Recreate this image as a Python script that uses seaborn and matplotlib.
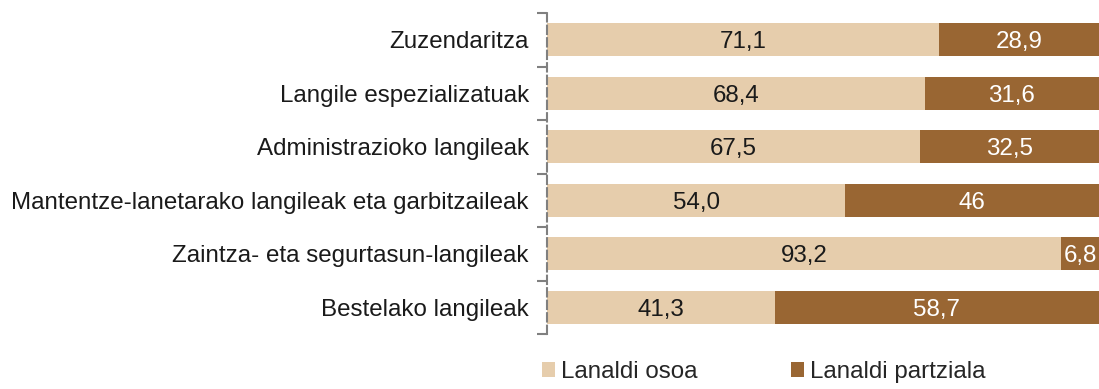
import matplotlib
matplotlib.use("Agg")
import matplotlib.pyplot as plt
from matplotlib.patches import Patch
import seaborn as sns
import pandas as pd

categories = [
    "Zuzendaritza",
    "Langile espezializatuak",
    "Administrazioko langileak",
    "Mantentze-lanetarako langileak eta garbitzaileak",
    "Zaintza- eta segurtasun-langileak",
    "Bestelako langileak",
]
osoa = [71.1, 68.4, 67.5, 54.0, 93.2, 41.3]
partziala = [28.9, 31.6, 32.5, 46.0, 6.8, 58.7]
osoa_labels = ["71,1", "68,4", "67,5", "54,0", "93,2", "41,3"]
partziala_labels = ["28,9", "31,6", "32,5", "46", "6,8", "58,7"]
series_names = ["Lanaldi osoa", "Lanaldi partziala"]

LIGHT = "#E6CDAC"
DARK = "#996633"
FONT = "Liberation Sans"
FS = 17.4

sns.set_theme(style="white")
plt.rcParams["font.family"] = [FONT, "DejaVu Sans"]

df = pd.DataFrame({
    "kategoria": categories,
    "osoa": osoa,
    "partziala": partziala,
})
df["guztira"] = df["osoa"] + df["partziala"]

fig = plt.figure(figsize=(10.99, 3.89), dpi=100)
ax = fig.add_axes([547 / 1099, 1 - 334 / 389, 1 - 547 / 1099, (334 - 13) / 389])

# stacked bars: full total in the dark colour, full-time share on top in the light colour
sns.barplot(data=df, y="kategoria", x="guztira", color=DARK, saturation=1,
            width=0.62, orient="h", ax=ax, linewidth=0)
sns.barplot(data=df, y="kategoria", x="osoa", color=LIGHT, saturation=1,
            width=0.62, orient="h", ax=ax, linewidth=0)

for i, (a, b) in enumerate(zip(osoa, partziala)):
    ax.text(a / 2, i, osoa_labels[i], ha="center", va="center_baseline",
            fontsize=FS, color="#1a1a1a")
    ax.text(a + b / 2, i, partziala_labels[i], ha="center", va="center_baseline",
            fontsize=FS, color="white")

ax.set_xlim(0, 100)
ax.set_ylim(len(categories) - 0.5, -0.5)
ax.set_xlabel("")
ax.set_ylabel("")
ax.set_xticks([])

ax.set_yticks(range(len(categories)))
ax.set_yticklabels(categories, fontsize=FS, color="#1a1a1a")
ax.set_yticks([k - 0.5 for k in range(len(categories) + 1)], minor=True)
ax.tick_params(axis="y", which="major", length=0, pad=13)
ax.tick_params(axis="y", which="minor", length=7, width=1.5, color="#808080",
               left=True, direction="out")

for side in ["top", "right", "bottom"]:
    ax.spines[side].set_visible(False)
ax.spines["left"].set_color("#808080")
ax.spines["left"].set_linewidth(1.5)
ax.spines["left"].set_linestyle((0, (4, 2)))

handles = [Patch(facecolor=LIGHT, edgecolor="none"),
           Patch(facecolor=DARK, edgecolor="none")]
fig.legend(handles, series_names, loc="lower left",
           bbox_to_anchor=(530 / 1099, -6 / 389), ncol=2, frameon=False,
           fontsize=FS, handlelength=0.55, handleheight=0.55,
           handletextpad=0.25, columnspacing=3.85, borderpad=0)

fig.savefig("out.png", dpi=100)
